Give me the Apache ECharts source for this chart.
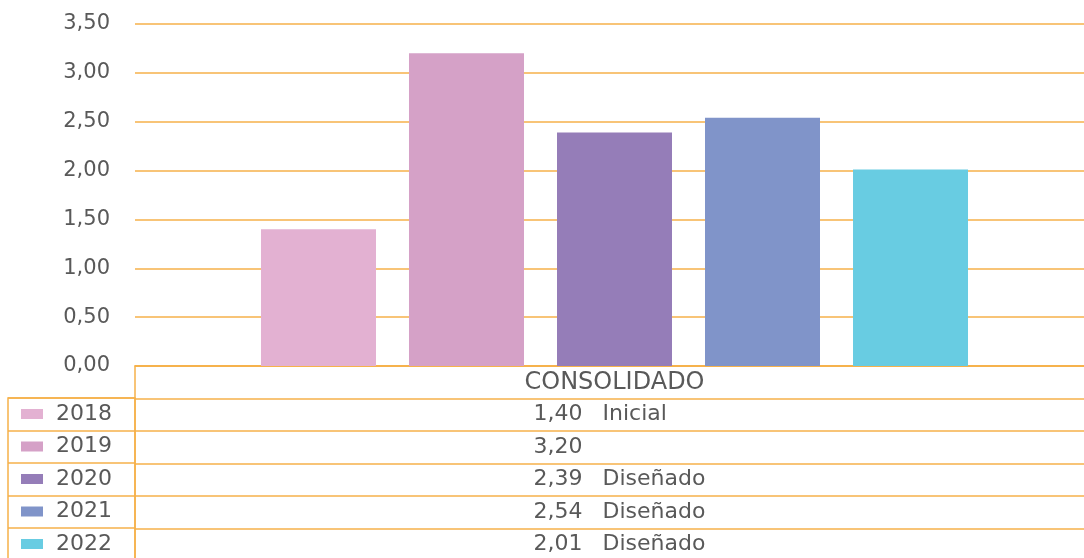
<!DOCTYPE html>
<html><head><meta charset="utf-8">
<script src="https://cdn.jsdelivr.net/npm/echarts@6/dist/echarts.min.js"></script>
<style>html,body{margin:0;padding:0;background:#fff}#c{width:1084px;height:558px}</style>
</head><body><div id="c"></div>
<script>
const category = ['CONSOLIDADO'];
const years = ['2018', '2019', '2020', '2021', '2022'];
const values = [1.40, 3.20, 2.39, 2.54, 2.01];
const notes = ['Inicial', '', 'Diseñado', 'Diseñado', 'Diseñado'];
const yMin = 0, yMax = 3.5, yStep = 0.5;

const colors = ['#E3B1D2', '#D5A1C7', '#957DB8', '#8094C9', '#68CCE2'];
const orange = '#F6B14A';
const lw = 1.5;
const txt = '#595959';
const FF = 'DejaVu Sans';
const fmt = v => v.toFixed(2).replace('.', ',');

const chart = echarts.init(document.getElementById('c'), null, {renderer: 'canvas'});

const barSeries = years.map((y, i) => ({
  type: 'bar', name: y, xAxisIndex: 0, yAxisIndex: 0,
  data: [values[i]], barWidth: 115, barGap: '28.7%',
  itemStyle: {color: colors[i]}
}));

const lbl = {fontSize: 22, color: txt, fontFamily: FF, textBorderWidth: 0, textShadowBlur: 0, opacity: 1};

chart.setOption({
  animation: false,
  textStyle: {fontFamily: FF},
  grid: [
    {left: 135, top: 24, width: 959, height: 342, outerBoundsMode: 'none'},
    {left: 8, top: 398, width: 127, height: 162.5, show: true, borderColor: orange, borderWidth: lw, backgroundColor: 'transparent', outerBoundsMode: 'none'},
    {left: 135, top: 366, width: 959, height: 195, outerBoundsMode: 'none'}
  ],
  legend: {
    data: years, orient: 'vertical', left: 21, top: 403, padding: 0,
    itemWidth: 22, itemHeight: 10, itemGap: 10.5, icon: 'rect',
    selectedMode: false,
    textStyle: {fontSize: 22, lineHeight: 22, color: txt, fontFamily: FF, padding: [0, 0, 0, 8]}
  },
  xAxis: [
    {type: 'category', gridIndex: 0, data: category,
     axisLine: {show: true, lineStyle: {color: orange, width: lw}},
     axisTick: {show: false},
     axisLabel: {show: true, margin: 5, fontSize: 24, color: txt, fontFamily: FF}},
    {type: 'category', gridIndex: 1, data: ['a'], show: false},
    {type: 'category', gridIndex: 2, data: category, show: false}
  ],
  yAxis: [
    {type: 'value', gridIndex: 0, min: yMin, max: yMax, interval: yStep,
     axisLine: {show: false}, axisTick: {show: false},
     axisLabel: {margin: 25, fontSize: 21, color: txt, fontFamily: FF, formatter: v => fmt(v)},
     splitLine: {show: true, lineStyle: {color: orange, width: lw}}},
    {type: 'category', gridIndex: 1, data: years, inverse: true,
     axisLine: {show: false}, axisTick: {show: false}, axisLabel: {show: false},
     splitLine: {show: true, lineStyle: {color: orange, width: lw}}},
    {type: 'category', gridIndex: 2, data: [category[0]].concat(years), inverse: true,
     axisLine: {show: true, lineStyle: {color: orange, width: lw}},
     axisTick: {show: false}, axisLabel: {show: false},
     splitLine: {show: true, lineStyle: {color: orange, width: lw}}}
  ],
  series: barSeries.concat([
    {type: 'scatter', name: 'valores', xAxisIndex: 2, yAxisIndex: 2, symbolSize: 0, silent: true,
     itemStyle: {opacity: 1},
     data: years.map(y => [category[0], y]),
     label: Object.assign({show: true, position: 'inside', align: 'right', offset: [-32, 0],
       formatter: p => fmt(values[p.dataIndex])}, lbl)},
    {type: 'scatter', name: 'notas', xAxisIndex: 2, yAxisIndex: 2, symbolSize: 0, silent: true,
     itemStyle: {opacity: 1},
     data: years.map(y => [category[0], y]),
     label: Object.assign({show: true, position: 'inside', align: 'left', offset: [-12, 0],
       formatter: p => notes[p.dataIndex]}, lbl)}
  ])
});
</script></body></html>
